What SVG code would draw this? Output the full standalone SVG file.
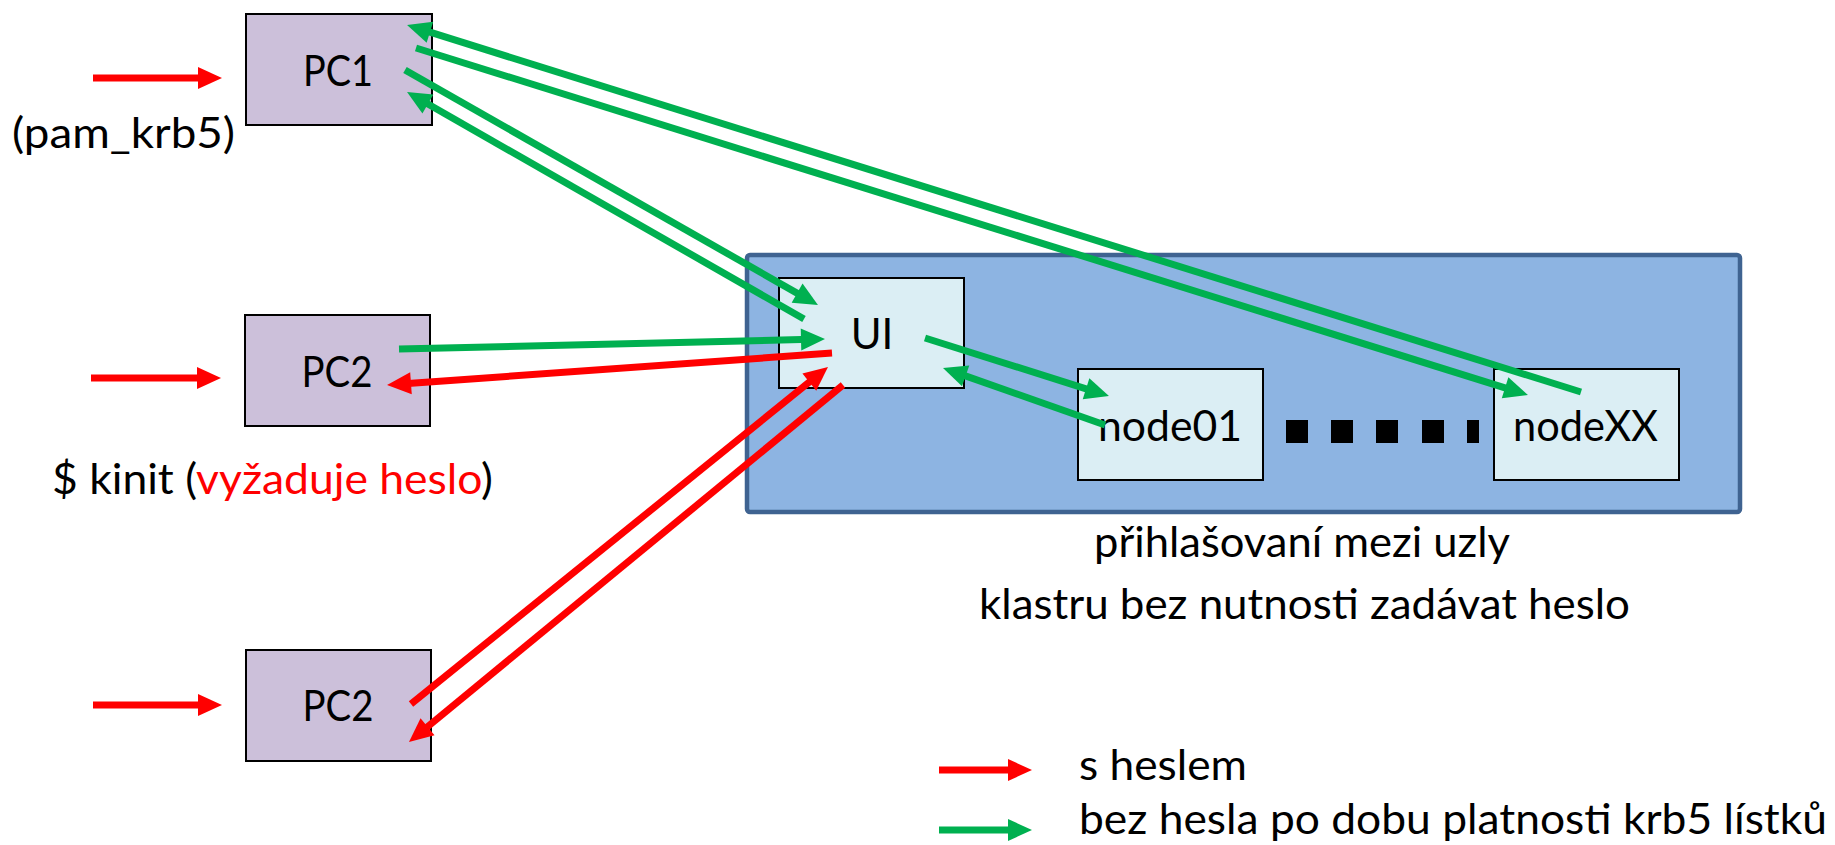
<svg xmlns="http://www.w3.org/2000/svg" width="1835" height="845" viewBox="0 0 1835 845">
<style>
text{font-family:Lato,"Open Sans","Liberation Sans",sans-serif;font-size:42px;fill:#000}
.pc{fill:#CCC0DA;stroke:#000;stroke-width:2}
.nd{fill:#DBEEF4;stroke:#000;stroke-width:2}
.g{stroke:#00B050;stroke-width:7;fill:none}
.r{stroke:#FF0000;stroke-width:7;fill:none}
.c{text-anchor:middle}
</style>
<defs>
<marker id="ag" markerUnits="userSpaceOnUse" markerWidth="24" markerHeight="22" refX="10" refY="11" orient="auto" overflow="visible"><path d="M0,0 L24,11 L0,22 z" fill="#00B050"/></marker>
<marker id="ar" markerUnits="userSpaceOnUse" markerWidth="24" markerHeight="22" refX="10" refY="11" orient="auto" overflow="visible"><path d="M0,0 L24,11 L0,22 z" fill="#FF0000"/></marker>
</defs>
<rect width="1835" height="845" fill="#fff"/>
<g id="cluster">
<rect x="747" y="255" width="993" height="257" rx="3" fill="#8DB4E2" stroke="#3F6391" stroke-width="4.5"/>
<g fill="#000"><rect x="1286" y="420" width="22" height="23"/><rect x="1331" y="420" width="22" height="23"/><rect x="1376" y="420" width="22" height="23"/><rect x="1422" y="420" width="22" height="23"/><rect x="1467" y="420" width="12" height="23"/></g>
</g>
<g id="pc1"><rect class="pc" x="246" y="14" width="186" height="111"/><text class="c" x="338" y="86" textLength="70" lengthAdjust="spacingAndGlyphs">PC1</text></g>
<g id="pc2a"><rect class="pc" x="245" y="315" width="185" height="111"/><text class="c" x="337" y="387" textLength="71" lengthAdjust="spacingAndGlyphs">PC2</text></g>
<g id="pc2b"><rect class="pc" x="246" y="650" width="185" height="111"/><text class="c" x="338" y="721" textLength="71" lengthAdjust="spacingAndGlyphs">PC2</text></g>
<g id="ui"><rect class="nd" x="779" y="278" width="185" height="110"/><text class="c" x="872" y="349">UI</text></g>
<g id="node01"><rect class="nd" x="1078" y="369" width="185" height="111"/><text x="1098" y="441" textLength="144" lengthAdjust="spacingAndGlyphs">node01</text></g>
<g id="nodeXX"><rect class="nd" x="1494" y="369" width="185" height="111"/><text x="1513" y="441" textLength="145" lengthAdjust="spacingAndGlyphs">nodeXX</text></g>
<g id="labels">
<text x="12" y="148" textLength="223" lengthAdjust="spacingAndGlyphs">(pam_krb5)</text>
<text x="52" y="494" textLength="441" lengthAdjust="spacingAndGlyphs">$ kinit (<tspan fill="#FF0000">vyžaduje heslo</tspan>)</text>
<text x="1094" y="557" textLength="416" lengthAdjust="spacingAndGlyphs">přihlašovaní mezi uzly</text>
<text x="979" y="619" textLength="651" lengthAdjust="spacingAndGlyphs">klastru bez nutnosti zadávat heslo</text>
<text x="1079" y="780" textLength="168" lengthAdjust="spacingAndGlyphs">s heslem</text>
<text x="1079" y="834" textLength="748" lengthAdjust="spacingAndGlyphs">bez hesla po dobu platnosti krb5 lístků</text>
</g>
<g id="connectors">
<line class="r" x1="93" y1="78" x2="208" y2="78" marker-end="url(#ar)"/>
<line class="r" x1="91" y1="378" x2="207" y2="378" marker-end="url(#ar)"/>
<line class="r" x1="93" y1="705" x2="208" y2="705" marker-end="url(#ar)"/>
<line class="g" x1="1581" y1="392" x2="420.4" y2="29.2" marker-end="url(#ag)"/>
<line class="g" x1="416" y1="48" x2="1514.6" y2="390.8" marker-end="url(#ag)"/>
<line class="g" x1="804" y1="319" x2="419.2" y2="99" marker-end="url(#ag)"/>
<line class="g" x1="405" y1="70" x2="805.8" y2="298.1" marker-end="url(#ag)"/>
<line class="g" x1="399" y1="349" x2="811" y2="339.3" marker-end="url(#ag)"/>
<line class="r" x1="832" y1="353" x2="401" y2="384" marker-end="url(#ar)"/>
<line class="r" x1="411" y1="704" x2="817.1" y2="375.8" marker-end="url(#ar)"/>
<line class="r" x1="843" y1="385" x2="419.8" y2="733.1" marker-end="url(#ar)"/>
<line class="g" x1="925" y1="338" x2="1095.6" y2="391.8" marker-end="url(#ag)"/>
<line class="g" x1="1105" y1="425" x2="956.2" y2="372.6" marker-end="url(#ag)"/>
<line class="r" x1="939" y1="770" x2="1018" y2="770" marker-end="url(#ar)"/>
<line class="g" x1="939" y1="830" x2="1018" y2="830" marker-end="url(#ag)"/>
</g>
</svg>
